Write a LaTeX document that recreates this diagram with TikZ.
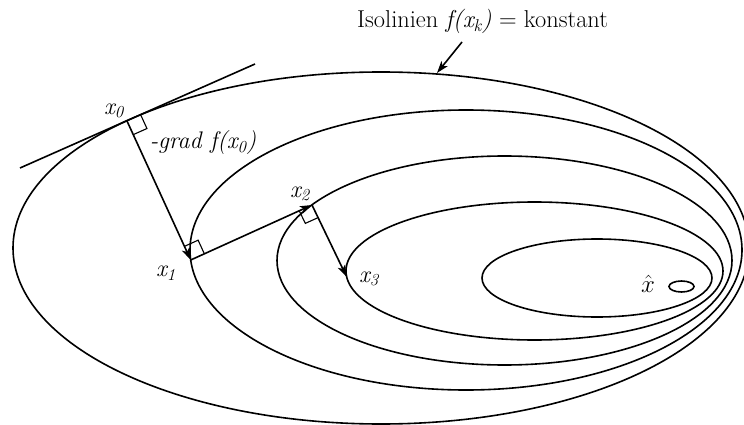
\documentclass[tikz,border=0pt]{standalone}
\usetikzlibrary{arrows.meta,calc}
\begin{document}
\begin{tikzpicture}[x=1pt,y=-1pt,
  contour/.style={line width=1.6pt},
  steparrow/.style={line width=1.6pt,-{Stealth[length=12pt,width=8pt,inset=3pt]}},
  rightangle/.style={line width=1.1pt},
  lbl/.style={font=\fontsize{24}{26}\selectfont\itshape, inner sep=0pt},
  titlefont/.style={font=\fontsize{24.4}{26}\selectfont, inner sep=0pt}
]
\useasboundingbox (0,0) rectangle (744,425);
\clip (0,0) rectangle (744,425);
% contours
\draw[contour] (381,248) ellipse [x radius=368pt, y radius=176pt];
\draw[contour] (466,250) ellipse [x radius=276pt, y radius=140pt];
\draw[contour] (504.5,260.5) ellipse [x radius=227.5pt, y radius=104.5pt];
\draw[contour] (534.5,271) ellipse [x radius=188.5pt, y radius=69pt];
\draw[contour] (597,278) ellipse [x radius=115pt, y radius=39pt];
\draw[contour] (681.5,286.5) ellipse [x radius=12.5pt, y radius=5.5pt];
% points
\coordinate (x0) at (127,121);
\coordinate (x1) at (190.7,260);
\coordinate (x2) at (312,205);
\coordinate (x3) at (346.7,277);
\coordinate (t1) at (20,168);
\coordinate (t2) at (255,64);
% tangent
\draw[contour] (t1) -- (t2);
% steps
\draw[steparrow] (x0) -- (x1);
\draw[steparrow] (x1) -- (x2);
\draw[steparrow] (x2) -- (x3);
% right angles
\coordinate (a0) at ($(x0)!15pt!(t2)$);
\coordinate (b0) at ($(x0)!15pt!(x1)$);
\coordinate (c0) at ($(a0)+(b0)-(x0)$);
\draw[rightangle] (a0) -- (c0) -- (b0);
\coordinate (a1) at ($(x1)!15pt!(x0)$);
\coordinate (b1) at ($(x1)!15pt!(x2)$);
\coordinate (c1) at ($(a1)+(b1)-(x1)$);
\draw[rightangle] (a1) -- (c1) -- (b1);
\coordinate (a2) at ($(x2)!14pt!(x1)$);
\coordinate (b2) at ($(x2)!14pt!(x3)$);
\coordinate (c2) at ($(a2)+(b2)-(x2)$);
\draw[rightangle] (a2) -- (c2) -- (b2);
% labels
\node[lbl] (lx0) at (114,111) {x\textsubscript{0}};
\node[lbl] (lgrad) at (203,143) {-grad f(x\textsubscript{0})};
\node[lbl] (lx1) at (166,273) {x\textsubscript{1}};
\node[lbl] (lx2) at (300,194) {x\textsubscript{2}};
\node[lbl] (lx3) at (369,279) {x\textsubscript{3}};
\node[inner sep=0pt, font=\fontsize{24}{26}\selectfont] (lxhat) at (648,284) {$\hat{x}$};
% title
\node[titlefont, anchor=base west] (title) at (357,28) {Isolinien \textit{f(x\textsubscript{k})} = konstant};
\coordinate (ta) at (462,42);
\coordinate (tb) at (437,73);
\draw[steparrow] (ta) -- (tb);
\end{tikzpicture}
\end{document}
